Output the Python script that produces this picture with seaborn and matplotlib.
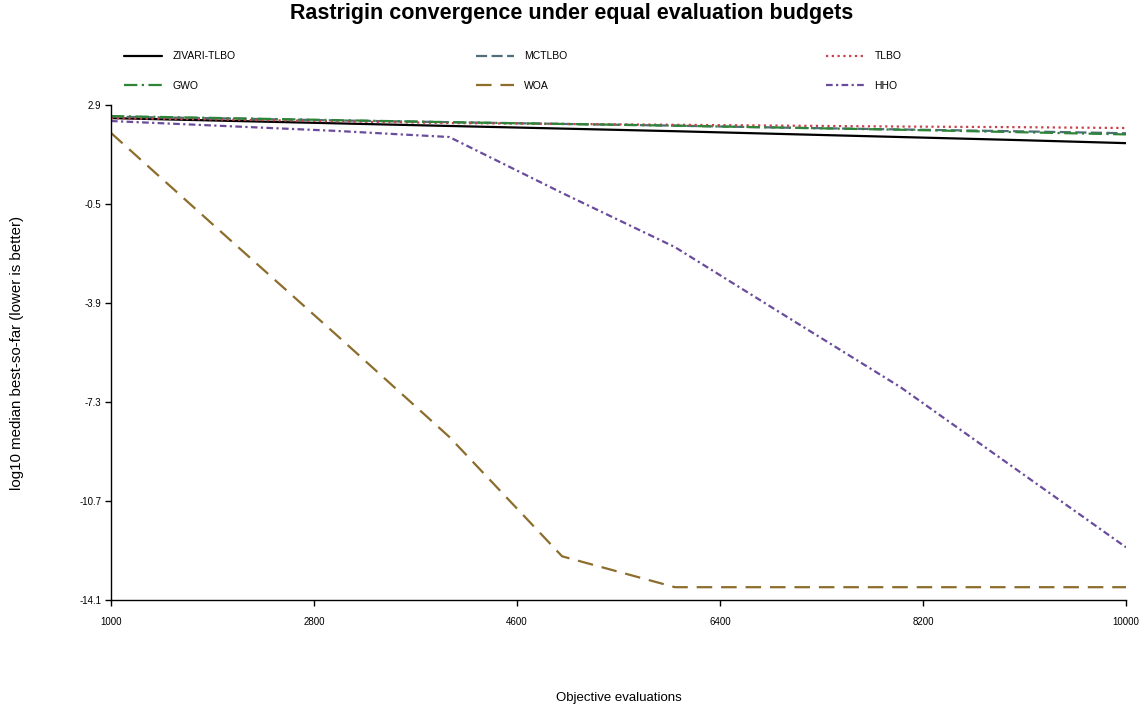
import numpy as np
import pandas as pd
import matplotlib
matplotlib.use("Agg")
import matplotlib.pyplot as plt
import seaborn as sns

evals = [1000, 2000, 3000, 4000, 5000, 6000, 7000, 8000, 9000, 10000]
zivari_tlbo = [2.45, 2.36, 2.27, 2.18, 2.09, 2.00, 1.90, 1.80, 1.70, 1.59]
mctlbo = [2.50, 2.44, 2.37, 2.31, 2.25, 2.19, 2.12, 2.06, 2.00, 1.93]
tlbo = [2.45, 2.40, 2.34, 2.28, 2.25, 2.22, 2.19, 2.16, 2.14, 2.11]
gwo = [2.52, 2.45, 2.38, 2.31, 2.25, 2.19, 2.12, 2.05, 1.97, 1.89]
woa = [1.94, -1.54, -5.00, -8.50, -12.60, -13.66, -13.66, -13.66, -13.66, -13.66]
hho = [2.35, 2.18, 2.01, 1.80, -0.12, -1.98, -4.39, -6.79, -9.54, -12.29]

series_names = ["ZIVARI-TLBO", "MCTLBO", "TLBO", "GWO", "WOA", "HHO"]
series_values = [zivari_tlbo, mctlbo, tlbo, gwo, woa, hho]

x_ticks = [1000, 2800, 4600, 6400, 8200, 10000]
y_ticks = [2.9, -0.5, -3.9, -7.3, -10.7, -14.1]
y_tick_labels = ["2.9", "-0.5", "-3.9", "-7.3", "-10.7", "-14.1"]

colors = {
    "ZIVARI-TLBO": "#000000",
    "MCTLBO": "#4f6d7a",
    "TLBO": "#c8404a",
    "GWO": "#2e8538",
    "WOA": "#8c6d2c",
    "HHO": "#6a4c9c",
}
dashes = {
    "ZIVARI-TLBO": "",
    "MCTLBO": (5, 2),
    "TLBO": (1, 1.6),
    "GWO": (6, 2, 1, 2),
    "WOA": (7, 4),
    "HHO": (3, 1.5, 1, 1.5),
}

rows = []
for name, vals in zip(series_names, series_values):
    for x, y in zip(evals, vals):
        rows.append({"evals": x, "value": y, "algorithm": name})
df = pd.DataFrame(rows)

sns.set_style("ticks")
plt.rcParams["font.family"] = ["Liberation Sans", "DejaVu Sans"]
plt.rcParams["text.color"] = "black"
plt.rcParams["axes.labelcolor"] = "black"
plt.rcParams["xtick.color"] = "black"
plt.rcParams["ytick.color"] = "black"

fig = plt.figure(figsize=(11.43, 7.08), dpi=100)
ax = fig.add_axes([111 / 1143, 1 - 600 / 708, (1126 - 111) / 1143, (600 - 105) / 708])

sns.lineplot(data=df, x="evals", y="value", hue="algorithm", style="algorithm",
             hue_order=series_names, style_order=series_names,
             palette=colors, dashes=dashes, linewidth=1.6, ax=ax, legend=True)

ax.set_xlim(1000, 10000)
ax.set_ylim(-14.1, 2.9)
ax.set_xticks(x_ticks)
ax.set_xticklabels([str(t) for t in x_ticks])
ax.set_yticks(y_ticks)
ax.set_yticklabels(y_tick_labels)
ax.tick_params(axis="both", labelsize=7, length=4, width=1, color="black", labelcolor="black")
ax.tick_params(axis="y", pad=3)
ax.tick_params(axis="x", pad=8)
for s in ["top", "right"]:
    ax.spines[s].set_visible(False)
for s in ["left", "bottom"]:
    ax.spines[s].set_color("black")
    ax.spines[s].set_linewidth(1.0)

ax.set_xlabel("Objective evaluations", fontsize=9.5, color="black")
ax.xaxis.set_label_coords(0.5, -0.186)
ax.set_ylabel("log10 median best-so-far (lower is better)", fontsize=10.8, color="black")
ax.yaxis.set_label_coords(-0.086, 0.5)

handles, labels = ax.get_legend_handles_labels()
hmap = dict(zip(labels, handles))
ax.get_legend().remove()
legend_columns = [["ZIVARI-TLBO", "GWO"], ["MCTLBO", "WOA"], ["TLBO", "HHO"]]
column_x = [124, 476, 826]
for names, xpx in zip(legend_columns, column_x):
    leg = fig.legend([hmap[n] for n in names], names, loc="center left",
                     bbox_to_anchor=(xpx / 1143, 1 - 71 / 708),
                     frameon=False, fontsize=7.5, handlelength=3.65, handletextpad=1.0,
                     labelspacing=1.88, borderpad=0.0, borderaxespad=0.0,
                     labelcolor="black")

fig.suptitle("Rastrigin convergence under equal evaluation budgets", fontsize=15.5,
             fontweight="bold", y=1 - 13 / 708, va="center", color="black")

fig.savefig("out.png", dpi=100)
